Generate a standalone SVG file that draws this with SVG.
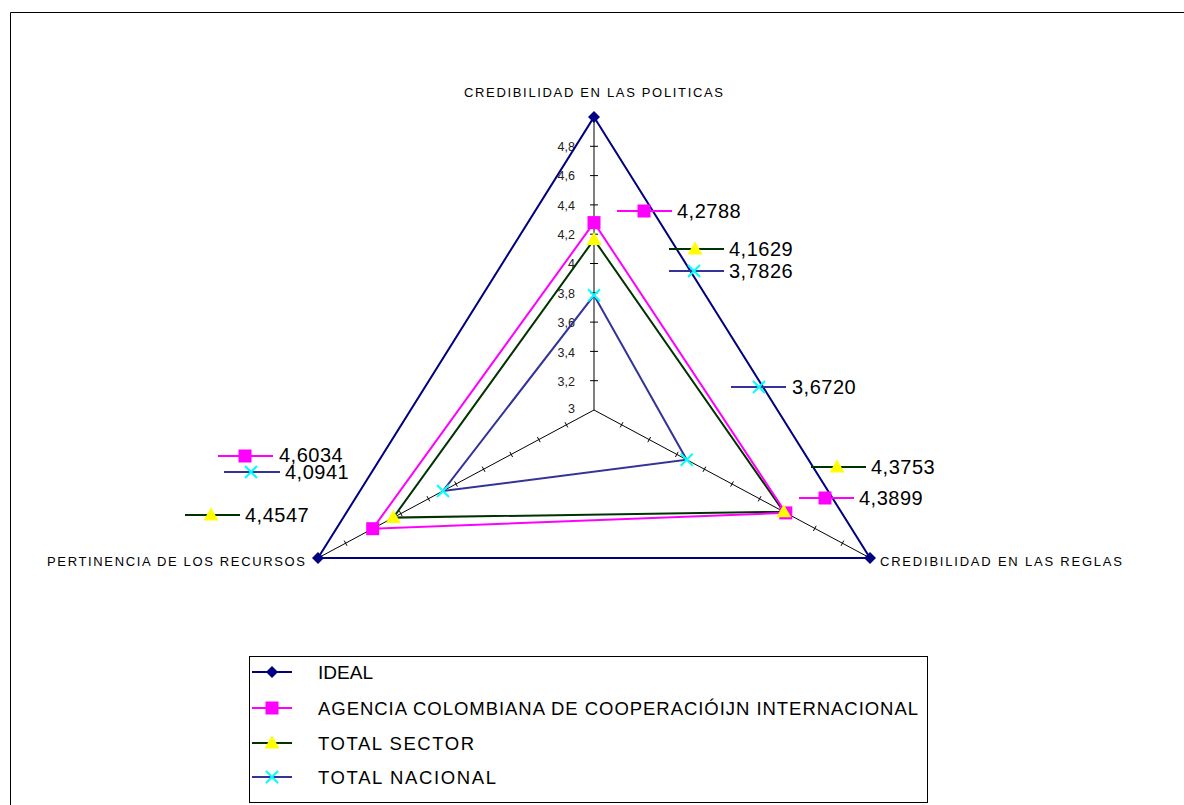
<svg xmlns="http://www.w3.org/2000/svg" width="1184" height="805" viewBox="0 0 1184 805">
<style>
text{font-family:"Liberation Sans",Arial,sans-serif;fill:#000}
.ax{font-size:13px}
.tk{font-size:12.5px;fill:#222;text-anchor:end}
.dl{font-size:20px;letter-spacing:0.5px}
.lg{font-size:18.5px}
.axis{stroke:#000;stroke-width:1;fill:none}
.ideal{stroke:#000080;stroke-width:2;fill:none}
.ag{stroke:#FF00FF;stroke-width:2;fill:none}
.se{stroke:#003300;stroke-width:2;fill:none}
.na{stroke:#333399;stroke-width:2;fill:none}
</style>
<defs>
<path id="dia" d="M0,-6 L6,0 L0,6 L-6,0Z" fill="#000080"/>
<rect id="sq" x="-6.5" y="-6.5" width="13" height="13" fill="#FF00FF"/>
<path id="tri" d="M0,-7.5 L7.5,5.5 L-7.5,5.5Z" fill="#FFFF00"/>
<path id="crs" d="M-6,-6 L6,6 M-6,6 L6,-6" stroke="#00FFFF" stroke-width="2" fill="none"/>
</defs>
<rect width="1184" height="805" fill="#fff"/>
<path d="M10.5,805 V12.5 H1184" stroke="#000" stroke-width="1" fill="none"/>

<g id="axes">
<path class="axis" d="M594,410 V117 M594,410 L870,558 M594,410 L318,558"/>
<path class="axis" d="M590,380.7h8M590,351.4h8M590,322.1h8M590,292.8h8M590,263.5h8M590,234.2h8M590,204.9h8M590,175.6h8M590,146.3h8"/>
<path class="axis" d="M620.2,427.4l2.8,-5.2M647.8,442.2l2.8,-5.2M675.4,457l2.8,-5.2M703,471.8l2.8,-5.2M730.6,486.6l2.8,-5.2M758.2,501.4l2.8,-5.2M785.8,516.2l2.8,-5.2M813.4,531l2.8,-5.2M841,545.8l2.8,-5.2"/>
<path class="axis" d="M565,422.2l2.8,5.2M537.4,437l2.8,5.2M509.8,451.8l2.8,5.2M482.2,466.6l2.8,5.2M454.6,481.4l2.8,5.2M427,496.2l2.8,5.2M399.4,511l2.8,5.2M371.8,525.8l2.8,5.2M344.2,540.6l2.8,5.2"/>
<text class="tk" x="575" y="413">3</text>
<text class="tk" x="575" y="386">3,2</text>
<text class="tk" x="575" y="357">3,4</text>
<text class="tk" x="575" y="327">3,6</text>
<text class="tk" x="575" y="298">3,8</text>
<text class="tk" x="575" y="268">4</text>
<text class="tk" x="575" y="239">4,2</text>
<text class="tk" x="575" y="210">4,4</text>
<text class="tk" x="575" y="180">4,6</text>
<text class="tk" x="575" y="151">4,8</text>
<text class="ax" x="464" y="97" textLength="259" lengthAdjust="spacing">CREDIBILIDAD EN LAS POLITICAS</text>
<text class="ax" x="880" y="566" textLength="242" lengthAdjust="spacing">CREDIBILIDAD EN LAS REGLAS</text>
<text class="ax" x="47" y="566" textLength="258" lengthAdjust="spacing">PERTINENCIA DE LOS RECURSOS</text>
</g>

<g id="series-ideal">
<path class="ideal" d="M594,117 L870,558 L318,558Z"/>
<use href="#dia" x="594" y="117"/><use href="#dia" x="870" y="558"/><use href="#dia" x="318" y="558"/>
</g>
<g id="series-nacional">
<path class="na" d="M594,295.3 L686.7,459.7 L443,491Z"/>
<use href="#crs" x="594" y="295.3"/><use href="#crs" x="686.7" y="459.7"/><use href="#crs" x="443" y="491"/>
</g>
<g id="series-sector">
<path class="se" d="M594,239.6 L783.8,511.8 L393.3,517.6Z"/>
</g>
<g id="series-agencia">
<path class="ag" d="M594,222.6 L785.8,512.9 L372.7,528.7Z"/>
<use href="#sq" x="594" y="222.6"/><use href="#sq" x="785.8" y="512.9"/><use href="#sq" x="372.7" y="528.7"/>
</g>
<g id="sector-markers">
<use href="#tri" x="594" y="239.6"/><use href="#tri" x="783.8" y="511.8"/><use href="#tri" x="393.3" y="517.6"/>
</g>

<g id="data-labels">
<path class="ag" d="M617,211 H672"/><use href="#sq" x="644" y="211"/><text class="dl" x="677" y="218">4,2788</text>
<path class="se" d="M669,249 H724"/><use href="#tri" x="695" y="249"/><text class="dl" x="729" y="256">4,1629</text>
<path class="na" d="M669,271 H724"/><use href="#crs" x="694" y="271"/><text class="dl" x="729" y="278">3,7826</text>
<path class="na" d="M731,387 H786"/><use href="#crs" x="759" y="387"/><text class="dl" x="792" y="394">3,6720</text>
<path class="se" d="M811,467 H866"/><use href="#tri" x="837" y="467"/><text class="dl" x="871" y="474">4,3753</text>
<path class="ag" d="M799,498 H854"/><use href="#sq" x="825" y="498"/><text class="dl" x="859" y="505">4,3899</text>
<path class="ag" d="M218,456 H273"/><use href="#sq" x="245" y="456"/><text class="dl" x="279" y="462">4,6034</text>
<path class="na" d="M224,472 H280"/><use href="#crs" x="251" y="472"/><text class="dl" x="285" y="479">4,0941</text>
<path class="se" d="M185,515 H240"/><use href="#tri" x="211" y="515"/><text class="dl" x="245" y="522">4,4547</text>
</g>

<g id="legend">
<rect x="249.5" y="656.5" width="678" height="146" fill="#fff" stroke="#000" stroke-width="1"/>
<path class="ideal" d="M252,672 H292"/><use href="#dia" x="272" y="672"/>
<text class="lg" x="318" y="678.5" textLength="55" lengthAdjust="spacingAndGlyphs">IDEAL</text>
<path class="ag" d="M252,708 H292"/><use href="#sq" x="272" y="708"/>
<text class="lg" x="318" y="714.5" textLength="600" lengthAdjust="spacing">AGENCIA COLOMBIANA DE COOPERACIÓIJN INTERNACIONAL</text>
<path class="se" d="M252,743 H292"/><use href="#tri" x="272" y="743"/>
<text class="lg" x="318" y="749.5" textLength="156" lengthAdjust="spacing">TOTAL SECTOR</text>
<path class="na" d="M252,777 H292"/><use href="#crs" x="272" y="777"/>
<text class="lg" x="318" y="783.5" textLength="178" lengthAdjust="spacing">TOTAL NACIONAL</text>
</g>
</svg>
